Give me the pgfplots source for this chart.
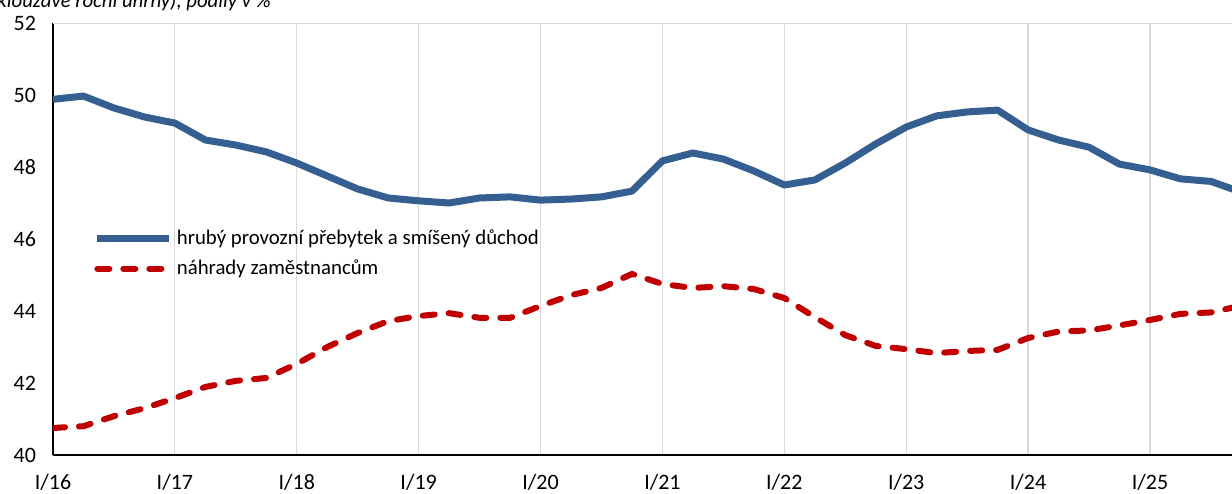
\documentclass[border=0pt]{standalone}
\usepackage{pgfplots}
\pgfplotsset{compat=1.18}
\usepackage{fontspec}
\setmainfont{Carlito}
\definecolor{myblue}{RGB}{53,95,145}
\definecolor{myred}{RGB}{192,0,0}
\begin{document}
\begin{tikzpicture}[x=1pt,y=1pt]
\begin{axis}[
  at={(26.5pt,19pt)}, anchor=south west,
  scale only axis, width=594.2pt, height=216pt,
  xmin=0, xmax=39, ymin=40, ymax=52,
  axis x line*=bottom, axis y line*=left,
  axis line style={black, line width=0.6pt, -},
  xtick={0,4,...,36},
  xticklabels={I/16,I/17,I/18,I/19,I/20,I/21,I/22,I/23,I/24,I/25},
  ytick={40,42,...,52},
  major tick length=0pt,
  /pgf/number format/assume math mode=true,
  xmajorgrids, grid style={gray!30, line width=0.6pt},
  tick label style={font=\fontsize{11}{13}\selectfont},
  xticklabel style={yshift=-6pt},
  yticklabel style={xshift=-5pt},
  legend style={at={(0.029,0.54)}, anchor=north west, draw=none, fill=none,
    font=\fontsize{10.4}{12}\selectfont, row sep=2pt},
  legend cell align=left,
  legend image code/.code={\draw[#1] (0pt,0pt) -- (36pt,0pt);},
]
\addplot[myblue, line width=3.5pt, line join=round] coordinates {
(0,49.88) (1,49.97) (2,49.64) (3,49.39) (4,49.22) (5,48.75) (6,48.61) (7,48.42)
(8,48.11) (9,47.75) (10,47.39) (11,47.14) (12,47.06) (13,47.00) (14,47.14) (15,47.17)
(16,47.08) (17,47.11) (18,47.17) (19,47.33) (20,48.17) (21,48.39) (22,48.22) (23,47.89)
(24,47.50) (25,47.64) (26,48.11) (27,48.64) (28,49.11) (29,49.42) (30,49.53) (31,49.58)
(32,49.03) (33,48.75) (34,48.55) (35,48.08) (36,47.92) (37,47.67) (38,47.60) (39,47.30)
};
\addlegendentry{hrubý provozní přebytek a smíšený důchod}
\addplot[myred, line width=3pt, line cap=round, dash pattern=on 6pt off 7pt] coordinates {
(0,40.75) (1,40.80) (2,41.08) (3,41.30) (4,41.58) (5,41.89) (6,42.06) (7,42.14)
(8,42.53) (9,43.00) (10,43.39) (11,43.72) (12,43.86) (13,43.94) (14,43.81) (15,43.81)
(16,44.14) (17,44.44) (18,44.64) (19,45.03) (20,44.75) (21,44.64) (22,44.69) (23,44.61)
(24,44.36) (25,43.83) (26,43.33) (27,43.03) (28,42.94) (29,42.83) (30,42.89) (31,42.92)
(32,43.25) (33,43.43) (34,43.46) (35,43.60) (36,43.75) (37,43.92) (38,43.96) (39,44.15)
};
\addlegendentry{náhrady zaměstnancům}
\draw[gray!30, line width=0.6pt] (axis cs:0,52) -- (axis cs:39,52);
\end{axis}
\node[anchor=base west, inner sep=0pt, font=\fontsize{10.4}{12}\selectfont\itshape] at (-1.5pt,242.5pt) {klouzavé roční úhrny), podíly v \%};
\pgfresetboundingbox
\useasboundingbox (0,0) rectangle (616pt,246.5pt);
\end{tikzpicture}
\end{document}
